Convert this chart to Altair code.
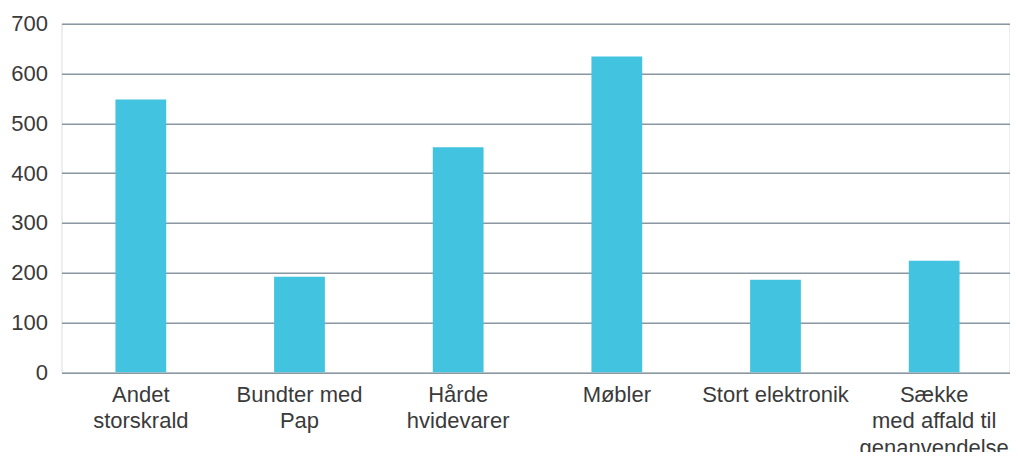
import altair as alt
import pandas as pd

categories = [
    "Andet\nstorskrald",
    "Bundter med\nPap",
    "Hårde\nhvidevarer",
    "Møbler",
    "Stort elektronik",
    "Sække\nmed affald til\ngenanvendelse",
]
values = [548, 192, 452, 634, 186, 224]
y_ticks = [0, 100, 200, 300, 400, 500, 600, 700]

df = pd.DataFrame({"kategori": categories, "antal": values})

FONT = "Liberation Sans"
TEXT = "#3a3a3a"

chart = (
    alt.Chart(df)
    .mark_bar(color="#42c3df")
    .encode(
        x=alt.X(
            "kategori:N",
            sort=categories,
            scale=alt.Scale(paddingInner=0.68, paddingOuter=0.34, range=[0, 952]),
            axis=alt.Axis(
                title=None,
                labelAngle=0,
                labelExpr="split(datum.label, '\\n')",
                labelFont=FONT,
                labelFontSize=22,
                labelColor=TEXT,
                labelLineHeight=26.5,
                labelPadding=12,
                labelBaseline="top",
                ticks=False,
                domain=False,
                labelLimit=300,
            ),
        ),
        y=alt.Y(
            "antal:Q",
            scale=alt.Scale(domain=[0, 700], nice=False),
            axis=alt.Axis(
                title=None,
                values=y_ticks,
                labelFont=FONT,
                labelFontSize=22,
                labelColor=TEXT,
                labelPadding=14,
                ticks=False,
                domain=False,
                gridColor="#8a97a1",
                gridWidth=1.5,
                gridOpacity=1,
            ),
        ),
    )
    .properties(
        width=948,
        height=348.6,
        autosize=alt.AutoSizeParams(type="none"),
        padding={"left": 53.5, "top": 15.7, "right": 0.5, "bottom": 80},
    )
    .configure_view(stroke=None)
    .configure(background="white")
)

chart.save("out.html", embed_options={"renderer": "svg", "actions": False})
